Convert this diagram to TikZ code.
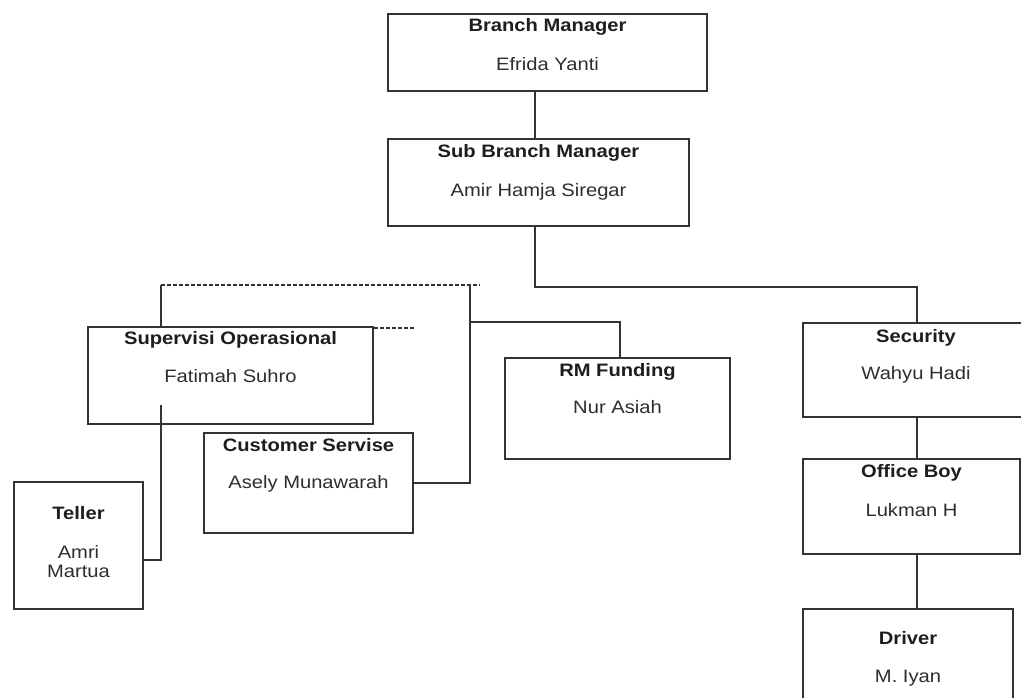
\documentclass[tikz,border=0pt]{standalone}
\usepackage{fontspec}
\setmainfont[FakeStretch=1.12]{Liberation Sans}
\usetikzlibrary{calc}
\definecolor{linec}{HTML}{333333}
\definecolor{txtc}{HTML}{1E1E1E}
\definecolor{namec}{HTML}{2E2E2E}
\begin{document}
\begin{tikzpicture}[x=1pt,y=-1pt,
  box/.style={draw=linec,line width=2pt,rectangle,inner sep=0pt,anchor=north west},
  ttl/.style={anchor=mid,inner sep=0pt,text=txtc,font=\fontsize{18}{19}\selectfont\bfseries},
  nm/.style={anchor=mid,inner sep=0pt,text=namec,font=\fontsize{18}{19}\selectfont,align=center},
  conn/.style={draw=linec,line width=2pt},
  dsh/.style={draw=linec,line width=1.3pt,dash pattern=on 4pt off 2pt}]
\useasboundingbox (0,0) rectangle (1021,697);
\clip (0,0) rectangle (1021,697);
\fill[white] (0,0) rectangle (1021,697);

% boxes
\node[box,minimum width=319pt,minimum height=77pt] (bm) at (387,13) {};
\node[box,minimum width=301pt,minimum height=87pt] (sbm) at (387,138) {};
\node[box,minimum width=285pt,minimum height=97pt] (sup) at (87,326) {};
\node[box,minimum width=209pt,minimum height=100pt] (cs) at (203,432) {};
\node[box,minimum width=225pt,minimum height=101pt] (rm) at (504,357) {};
\node[box,minimum width=228pt,minimum height=94pt] (sec) at (802,322) {};
\node[box,minimum width=217pt,minimum height=95pt] (ob) at (802,458) {};
\node[box,minimum width=210pt,minimum height=120pt] (drv) at (802,608) {};
\node[box,minimum width=129pt,minimum height=127pt] (tel) at (13,481) {};

% texts
\node[ttl] (bmT) at ($(bm.north)+(0,16)$) {Branch Manager};
\node[nm]  (bmN) at ($(bm.north)+(0,55)$) {Efrida Yanti};
\node[ttl] (sbmT) at ($(sbm.north)+(0,17)$) {Sub Branch Manager};
\node[nm]  (sbmN) at ($(sbm.north)+(0,56)$) {Amir Hamja Siregar};
\node[ttl] (supT) at ($(sup.north)+(0,16)$) {Supervisi Operasional};
\node[nm]  (supN) at ($(sup.north)+(0,54)$) {Fatimah Suhro};
\node[ttl] (csT) at ($(cs.north)+(0,17)$) {Customer Servise};
\node[nm]  (csN) at ($(cs.north)+(0,54)$) {Asely Munawarah};
\node[ttl] (rmT) at ($(rm.north)+(0,17)$) {RM Funding};
\node[nm]  (rmN) at ($(rm.north)+(0,54)$) {Nur Asiah};
\node[ttl] (secT) at ($(sec.north west)+(114,18)$) {Security};
\node[nm]  (secN) at ($(sec.north west)+(114,55)$) {Wahyu Hadi};
\node[ttl] (obT) at ($(ob.north)+(0,17)$) {Office Boy};
\node[nm]  (obN) at ($(ob.north)+(0,56)$) {Lukman H};
\node[ttl] (drvT) at ($(drv.north)+(0,34)$) {Driver};
\node[nm]  (drvN) at ($(drv.north)+(0,72)$) {M. Iyan};
\node[ttl] (telT) at ($(tel.north)+(0,36)$) {Teller};
\node[nm,anchor=north] (telN) at ($(tel.north)+(0,64)$) {Amri\\Martua};

% coordinates
\coordinate (dL) at (161,285);
\coordinate (dR) at (480,285);
\coordinate (jn) at (470,285);
\coordinate (jr) at (470,322);
\coordinate (tt) at (161,405);

% connectors
\draw[conn] ($(bm.south west)+(148,0)$) -- ($(sbm.north west)+(148,0)$);
\draw[conn] ($(sbm.south west)+(148,0)$) -- ++(0,60) -| (sec.north);
\draw[dsh] (dL) -- (dR);
\draw[conn] (dL) -- (dL |- sup.north);
\draw[conn] (jn) |- (cs.east);
\draw[conn] (jr) -| ($(rm.north west)+(116,0)$);
\draw[dsh] ($(sup.north east)+(0,2)$) -- ++(41,0);
\draw[conn] (tt) |- ($(tel.north east)+(0,79)$);
\draw[conn] ($(sec.south west)+(115,0)$) -- ($(ob.north west)+(115,0)$);
\draw[conn] ($(ob.south west)+(115,0)$) -- ($(drv.north west)+(115,0)$);
\end{tikzpicture}
\end{document}
